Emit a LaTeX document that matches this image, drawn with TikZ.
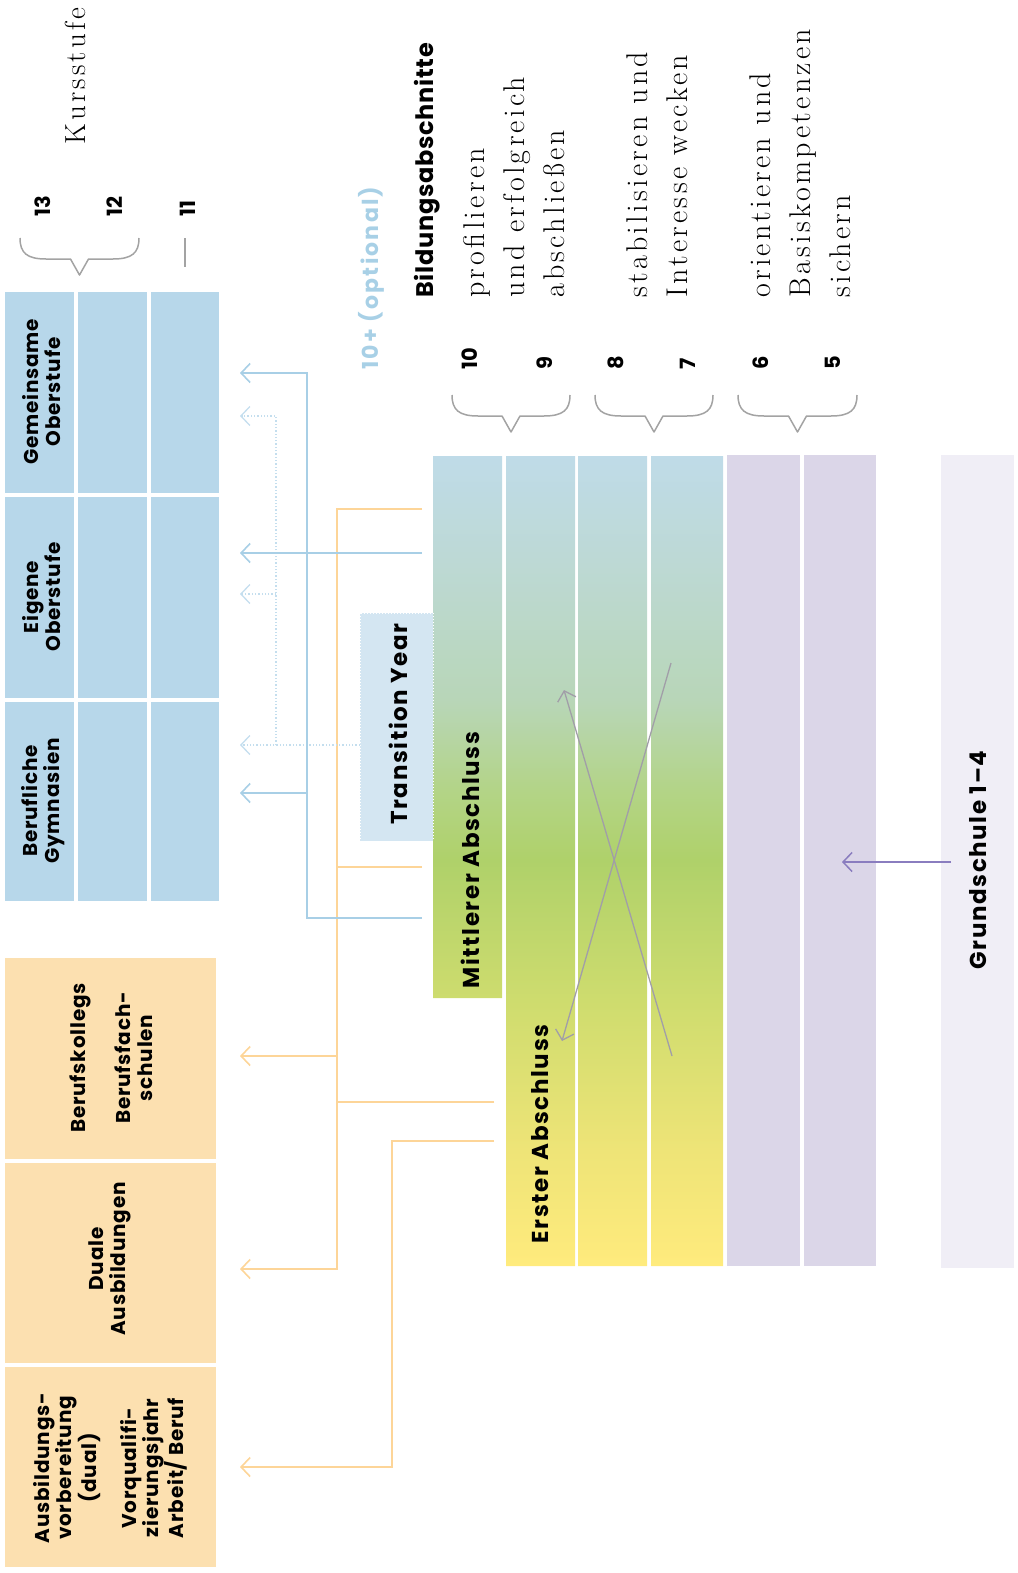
\documentclass[tikz,border=0pt]{standalone}
\usepackage{fontspec}
\usetikzlibrary{arrows.meta}
\newfontfamily\pop{Poppins}
\newfontfamily\serfam{Latin Modern Roman}[LetterSpace=11]
\definecolor{boxblue}{HTML}{B7D7EA}
\definecolor{boxorange}{HTML}{FCE0B0}
\definecolor{lineblue}{HTML}{A8CFE6}
\definecolor{dotblue}{HTML}{C4DEEE}
\definecolor{lineorange}{HTML}{FDD598}
\definecolor{tyfill}{HTML}{D4E6F2}
\definecolor{purplecol}{HTML}{DBD6E8}
\definecolor{grundcol}{HTML}{F0EEF6}
\definecolor{purpline}{HTML}{8A7DBF}
\definecolor{grayline}{HTML}{A19EA8}
\definecolor{bracegray}{HTML}{A3A3A3}
\definecolor{optblue}{HTML}{A8D0E6}
\definecolor{gA}{HTML}{FFEB7D}
\definecolor{gB}{HTML}{EEE477}
\definecolor{gC}{HTML}{CEDC6E}
\definecolor{gD}{HTML}{AFD16A}
\definecolor{gE}{HTML}{B3D487}
\definecolor{gF}{HTML}{B8D6B8}
\definecolor{gG}{HTML}{BDD9D5}
\definecolor{gH}{HTML}{BFDBE8}
\pgfdeclareverticalshading{schoolgrad}{100bp}{color(0bp)=(gA); color(25bp)=(gA); color(32.16bp)=(gB); color(41.42bp)=(gC); color(50.06bp)=(gD); color(54.38bp)=(gE); color(59.94bp)=(gF); color(68.58bp)=(gG); color(75bp)=(gH); color(100bp)=(gH)}
\newcommand\bracedraw[3]{%
  \draw[bracest] (#1,#3) .. controls (#1,#3+15) and (#1+7,#3+21) .. (#1+26,#3+21)
    -- ({(#1+#2)/2-9},#3+21) -- ({(#1+#2)/2},#3+37) -- ({(#1+#2)/2+9},#3+21)
    -- (#2-26,#3+21) .. controls (#2-7,#3+21) and (#2,#3+15) .. (#2,#3);}
\begin{document}
\begin{tikzpicture}[x=1pt,y=-1pt,
  serifln/.style={font=\serfam\fontsize{30}{36}\selectfont, rotate=90, anchor=base west, inner sep=0pt},
  num/.style={font=\pop\bfseries\fontsize{21}{24}\selectfont, rotate=90, anchor=base west, inner sep=0pt},
  boxlbl/.style={font=\pop\bfseries\addfontfeatures{LetterSpace=4}\fontsize{20}{22}\selectfont, rotate=90, align=center, inner sep=0pt},
  biglbl/.style={font=\pop\bfseries\addfontfeatures{LetterSpace=7}\fontsize{23}{26}\selectfont, rotate=90, inner sep=0pt},
  bracest/.style={draw=bracegray, line width=1.5pt, line join=round},
  arr/.style={-{Straight Barb[length=9pt,width=19pt]}},
  blueln/.style={draw=lineblue, line width=1.6pt},
  dotln/.style={draw=dotblue, line width=1.3pt, dotted},
  orln/.style={draw=lineorange, line width=1.6pt},
  grayln/.style={draw=grayline, line width=1.3pt},
  purpln/.style={draw=purpline, line width=1.5pt}]
\useasboundingbox (0,0) rectangle (1017,1573);
% --- left boxes
\foreach \xa/\xb in {5/74,78/147,151/219}{
  \foreach \ya/\yb in {292/493,497/698,702/901}{
    \fill[boxblue] (\xa,\ya) rectangle (\xb,\yb);}}
\fill[boxorange] (5,958) rectangle (216,1159);
\fill[boxorange] (5,1163) rectangle (216,1363);
\fill[boxorange] (5,1367) rectangle (216,1567);
% --- gradient columns
\begin{scope}
  \clip (433,456) rectangle (502,998) (506,456) rectangle (575,1266)
        (578,456) rectangle (647,1266) (651,456) rectangle (723,1266);
  \shade[shading=schoolgrad] (433,456) rectangle (723,1266);
\end{scope}
\fill[purplecol] (727,455) rectangle (800,1266);
\fill[purplecol] (804,455) rectangle (876,1266);
\fill[grundcol] (941,455) rectangle (1014,1268);
% --- transition year box
\filldraw[fill=tyfill, draw=white, dotted, line width=1pt] (360,613) rectangle (433,841);
% --- braces
\bracedraw{20}{139}{238}
\draw[bracest] (185,238) -- (185,267);
\bracedraw{452}{570}{395}
\bracedraw{595}{713}{395}
\bracedraw{738}{857}{395}
% --- header texts
\node[serifln, font=\serfam\fontsize{29}{34}\selectfont] (kurs) at (85,145) {Kursstufe};
\node[num] (n13) at (50,217) {13};
\node[num] (n12) at (122,217) {12};
\node[num] (n11) at (195,217) {11};
\node[num, font=\pop\bfseries\addfontfeatures{LetterSpace=10}\fontsize{22}{24}\selectfont, text=optblue] (opt) at (378,370) {10+ (optional)};
\node[num, font=\pop\bfseries\addfontfeatures{LetterSpace=3}\fontsize{24}{26}\selectfont] (bild) at (433,298) {Bildungsabschnitte};
\node[num] (n10) at (477,370) {10};
\node[num] (n9) at (552,370) {9};
\node[num] (n8) at (623,370) {8};
\node[num] (n7) at (695,370) {7};
\node[num] (n6) at (768,370) {6};
\node[num] (n5) at (840,370) {5};
\node[serifln] (s1) at (484,298) {profilieren};
\node[serifln] (s2) at (524,298) {und erfolgreich};
\node[serifln] (s3) at (564,298) {abschließen};
\node[serifln] (s4) at (647,298) {stabilisieren und};
\node[serifln] (s5) at (687,298) {Interesse wecken};
\node[serifln] (s6) at (770,298) {orientieren und};
\node[serifln] (s7) at (810,298) {Basiskompetenzen};
\node[serifln] (s8) at (850,298) {sichern};
% --- box labels
\node[boxlbl] (gem) at (42,392) {Gemeinsame\\Oberstufe};
\node[boxlbl] (eig) at (42,597) {Eigene\\Oberstufe};
\node[boxlbl] (bgy) at (43,801) {Berufliche\\Gymnasien};
\node[boxlbl] (bko) at (80,1058) {Berufskollegs};
\node[boxlbl] (bfs) at (134,1058) {Berufsfach-\\schulen};
\node[boxlbl] (dua) at (110,1259) {Duale\\Ausbildungen};
\node[boxlbl] (abv) at (67,1468) {Ausbildungs-\\vorbereitung\\(dual)};
\node[boxlbl] (vqj) at (154,1468) {Vorqualifi-\\zierungsjahr\\Arbeit/ Beruf};
\node[biglbl] (ty) at (398,724) {Transition Year};
\node[biglbl] (mit) at (470,860) {Mittlerer Abschluss};
\node[biglbl] (ers) at (540,1134) {Erster Abschluss};
\node[biglbl] (gru) at (978,860) {Grundschule 1–4};
% --- connector coordinates
\coordinate (gemA) at (240,373);
\coordinate (eigA) at (240,553);
\coordinate (bgA) at (240,793);
\coordinate (bv) at (307,373);
\coordinate (mB) at (422,918);
\coordinate (mE) at (422,553);
\coordinate (dA1) at (240,416);
\coordinate (dA2) at (240,594);
\coordinate (dA3) at (240,745);
\coordinate (dv) at (276,416);
\coordinate (tyOut) at (360,745);
\coordinate (oA1) at (240,1056);
\coordinate (oA2) at (240,1269);
\coordinate (oA3) at (240,1467);
\coordinate (ov) at (337,1269);
\coordinate (ov2) at (392,1467);
\coordinate (oM1) at (422,509);
\coordinate (oM2) at (422,867);
\coordinate (oE1) at (494,1102);
\coordinate (oE2) at (494,1141);
\coordinate (x1s) at (671,663);
\coordinate (x1e) at (562,1041);
\coordinate (x2s) at (672,1056);
\coordinate (x2e) at (564,690);
\coordinate (gsOut) at (951,862);
\coordinate (gsA) at (842,862);
% --- orange connectors
\draw[orln,arr] (oM1) -| (ov) -- (oA2);
\draw[orln] (oM2) -- (oM2 -| ov);
\draw[orln] (oE1) -- (oE1 -| ov);
\draw[orln,arr] (oA1 -| ov) -- (oA1);
\draw[orln,arr] (oE2) -| (ov2) -- (oA3);
% --- dotted connectors
\draw[dotln,arr] (tyOut) -- (dA3);
\draw[dotln,arr] (dA3 -| dv) -- (dv) -- (dA1);
\draw[dotln,arr] (dv |- dA2) -- (dA2);
% --- blue connectors
\draw[blueln,arr] (mB) -| (bv) -- (gemA);
\draw[blueln,arr] (bv |- bgA) -- (bgA);
\draw[blueln,arr] (mE) -- (eigA);
% --- crossing arrows
\draw[grayln,arr] (x1s) -- (x1e);
\draw[grayln,arr] (x2s) -- (x2e);
\draw[purpln,arr] (gsOut) -- (gsA);
\end{tikzpicture}
\end{document}
